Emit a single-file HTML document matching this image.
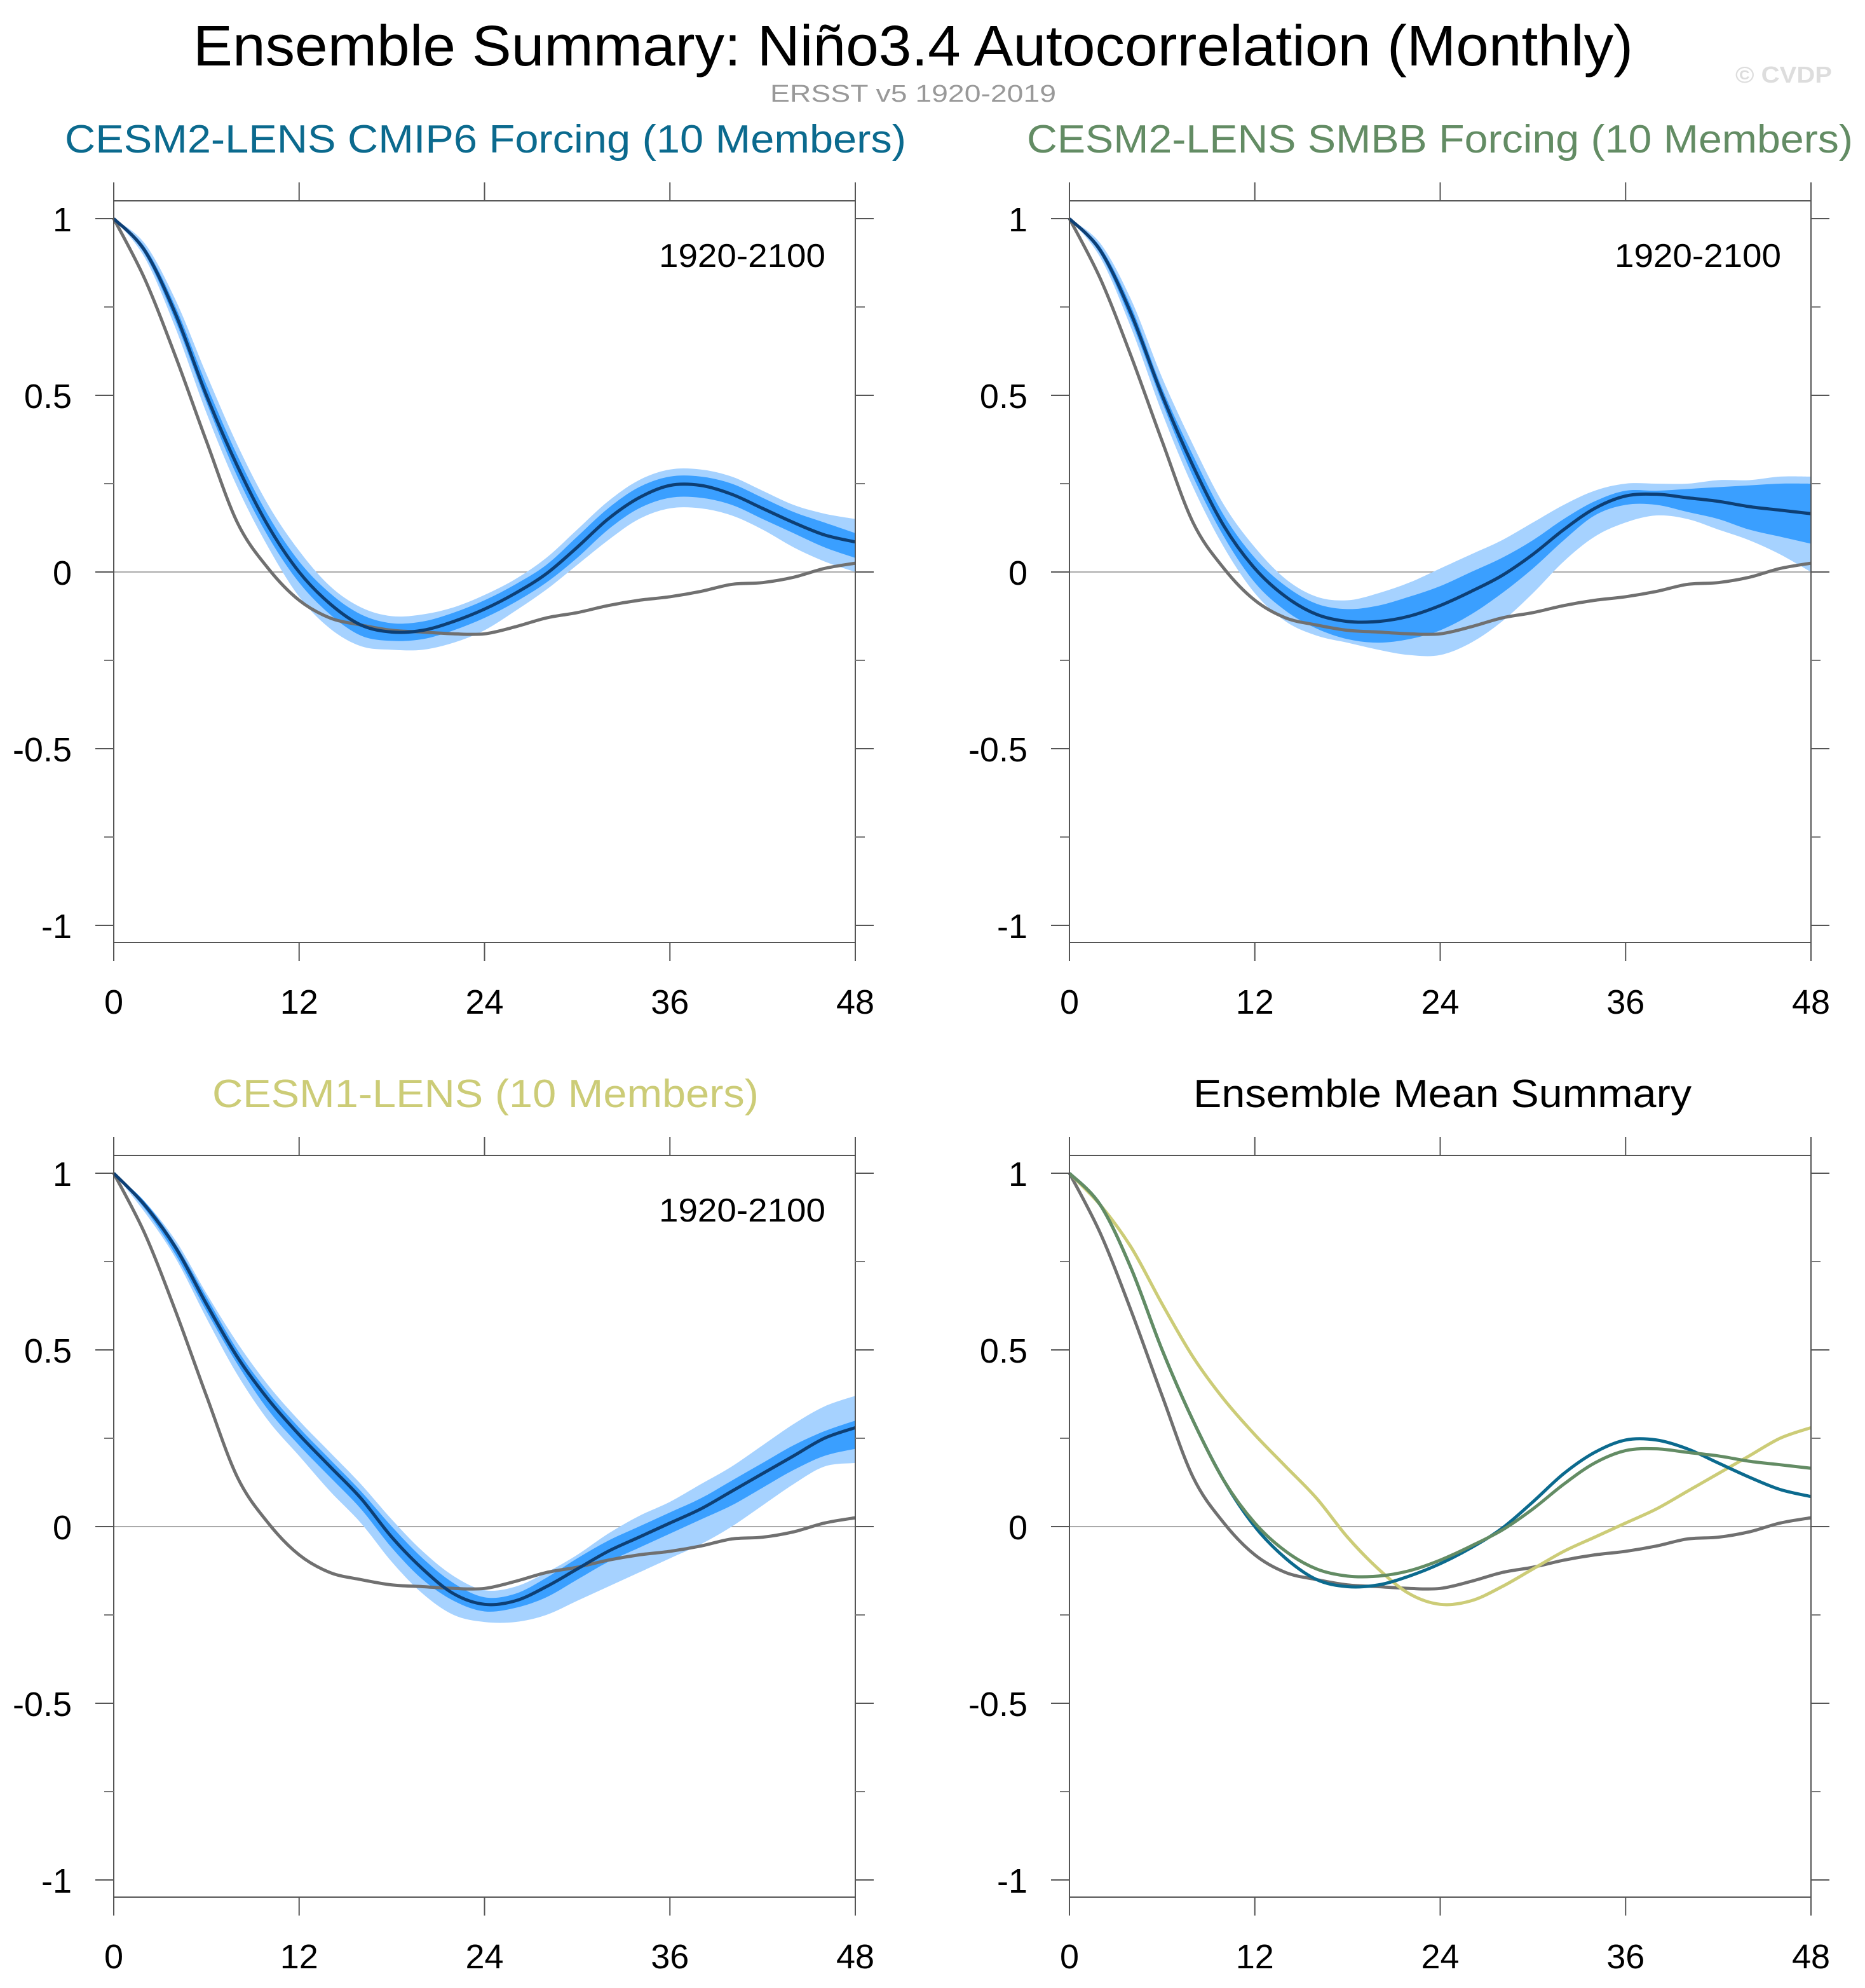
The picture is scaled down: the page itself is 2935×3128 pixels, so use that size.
<!DOCTYPE html>
<html><head><meta charset="utf-8"><style>
html,body{margin:0;padding:0;background:#fff;}
svg{display:block;font-family:"Liberation Sans",sans-serif;}
</style></head><body>
<svg id="fig" width="2935" height="3128" viewBox="0 0 2935 3128">
<text x="1437" y="103" text-anchor="middle" font-size="90" textLength="2266" lengthAdjust="spacingAndGlyphs" fill="#000">Ensemble Summary: Niño3.4 Autocorrelation (Monthly)</text>
<text x="1437" y="160" text-anchor="middle" font-size="38" textLength="450" lengthAdjust="spacingAndGlyphs" fill="#999">ERSST v5 1920-2019</text>
<text x="2883" y="130" text-anchor="end" font-size="36" font-weight="bold" textLength="152" lengthAdjust="spacingAndGlyphs" fill="#ddd">© CVDP</text>
</svg>
<script>
const lags = [0,2,4,6,8,10,12,14,16,18,20,22,24,26,28,30,32,34,36,38,40,42,44,46,48];
const obs = [1,0.83,0.61,0.37,0.14,0.01,-0.08,-0.13,-0.15,-0.165,-0.17,-0.175,-0.175,-0.155,-0.13,-0.115,-0.095,-0.08,-0.07,-0.055,-0.035,-0.03,-0.015,0.01,0.025];
const cmip6Mean = [1,0.91,0.73,0.50,0.30,0.13,0.0,-0.09,-0.15,-0.17,-0.165,-0.14,-0.105,-0.06,-0.005,0.07,0.15,0.21,0.245,0.245,0.22,0.18,0.14,0.105,0.085];
const cmip6InLo = [1,0.90,0.71,0.48,0.27,0.10,-0.03,-0.12,-0.18,-0.195,-0.19,-0.165,-0.13,-0.085,-0.03,0.04,0.12,0.18,0.21,0.21,0.19,0.15,0.11,0.07,0.04];
const cmip6InHi = [1,0.92,0.75,0.53,0.33,0.16,0.03,-0.06,-0.12,-0.145,-0.14,-0.115,-0.08,-0.035,0.02,0.10,0.18,0.24,0.27,0.27,0.25,0.21,0.17,0.14,0.11];
const cmip6OutLo = [1,0.89,0.69,0.45,0.24,0.07,-0.07,-0.16,-0.21,-0.22,-0.22,-0.2,-0.165,-0.11,-0.05,0.02,0.09,0.15,0.18,0.18,0.16,0.12,0.07,0.03,0.0];
const cmip6OutHi = [1,0.93,0.77,0.56,0.36,0.19,0.06,-0.04,-0.10,-0.125,-0.12,-0.1,-0.065,-0.02,0.04,0.12,0.2,0.26,0.29,0.29,0.27,0.23,0.19,0.165,0.15];
const smbbMean = [1,0.91,0.73,0.50,0.30,0.13,0.01,-0.07,-0.12,-0.14,-0.14,-0.125,-0.095,-0.055,-0.01,0.05,0.12,0.18,0.215,0.22,0.21,0.2,0.185,0.175,0.165];
const smbbInLo = [1,0.90,0.71,0.48,0.27,0.10,-0.03,-0.11,-0.16,-0.19,-0.2,-0.19,-0.165,-0.12,-0.06,0.01,0.09,0.16,0.19,0.19,0.17,0.15,0.12,0.1,0.08];
const smbbInHi = [1,0.92,0.75,0.52,0.33,0.16,0.04,-0.04,-0.09,-0.105,-0.095,-0.07,-0.04,0.0,0.04,0.09,0.15,0.2,0.23,0.23,0.235,0.24,0.245,0.25,0.25];
const smbbOutLo = [1,0.89,0.69,0.45,0.24,0.07,-0.06,-0.14,-0.18,-0.2,-0.22,-0.235,-0.235,-0.2,-0.14,-0.06,0.03,0.1,0.14,0.16,0.15,0.12,0.09,0.05,0.0];
const smbbOutHi = [1,0.93,0.77,0.55,0.36,0.19,0.07,-0.02,-0.07,-0.08,-0.06,-0.03,0.01,0.05,0.09,0.14,0.19,0.23,0.25,0.25,0.25,0.26,0.26,0.27,0.27];
const cesm1Mean = [1,0.91,0.79,0.63,0.48,0.36,0.26,0.17,0.08,-0.03,-0.12,-0.19,-0.22,-0.21,-0.17,-0.12,-0.07,-0.03,0.01,0.05,0.1,0.15,0.2,0.25,0.28];
const cesm1InLo = [1,0.90,0.77,0.61,0.46,0.33,0.23,0.14,0.05,-0.06,-0.15,-0.21,-0.24,-0.23,-0.2,-0.15,-0.1,-0.06,-0.02,0.02,0.06,0.11,0.16,0.2,0.22];
const cesm1InHi = [1,0.92,0.80,0.65,0.50,0.38,0.28,0.19,0.10,0.0,-0.09,-0.16,-0.2,-0.19,-0.145,-0.09,-0.04,0.0,0.04,0.08,0.13,0.18,0.23,0.27,0.3];
const cesm1OutLo = [1,0.89,0.76,0.59,0.43,0.3,0.2,0.1,0.01,-0.1,-0.19,-0.25,-0.27,-0.27,-0.25,-0.21,-0.17,-0.13,-0.09,-0.05,0.0,0.06,0.12,0.17,0.18];
const cesm1OutHi = [1,0.92,0.81,0.66,0.52,0.40,0.30,0.21,0.12,0.02,-0.07,-0.14,-0.18,-0.17,-0.13,-0.08,-0.02,0.03,0.07,0.12,0.17,0.23,0.29,0.34,0.37];
const xTicks = [0,12,24,36,48];
const yTicks = [1,0.5,0,-0.5,-1];
const yTickLabels = ["1","0.5","0","-0.5","-1"];
const yMinor = [0.75,0.25,-0.25,-0.75];

const NS="http://www.w3.org/2000/svg";
const svg=document.getElementById('fig');
function mk(tag,attrs,parent){const e=document.createElementNS(NS,tag);for(const k in attrs)e.setAttribute(k,attrs[k]);(parent||svg).appendChild(e);return e;}
// smooth cubic segments through points (Catmull-Rom)
function smooth(pts,start){
  let d=(start?'M':'L')+pts[0][0]+','+pts[0][1];
  for(let i=0;i<pts.length-1;i++){
    const p0=pts[Math.max(0,i-1)],p1=pts[i],p2=pts[i+1],p3=pts[Math.min(pts.length-1,i+2)];
    const c1=[p1[0]+(p2[0]-p0[0])/6,p1[1]+(p2[1]-p0[1])/6];
    const c2=[p2[0]-(p3[0]-p1[0])/6,p2[1]-(p3[1]-p1[1])/6];
    d+=' C'+c1[0]+','+c1[1]+' '+c2[0]+','+c2[1]+' '+p2[0]+','+p2[1];
  }
  return d;
}

function panel(ox,oy,title,titleColor,titleX,titleW,name,bands,lines,period){
  const W=1167, top=oy, bot=oy+1167, y1=oy+28, ym1=oy+1140;
  const xs=v=>ox+v/48*W;
  const ys=v=>y1+(1-v)/2*(ym1-y1);
  const g=mk('g',{});
  
  
  const t=mk('text',{x:titleX,y:oy-76,'font-size':62,fill:titleColor,textLength:titleW,lengthAdjust:'spacingAndGlyphs'},g);
  t.textContent=title;
  
  
  const z=mk('line',{x1:ox,x2:ox+W,y1:ys(0),y2:ys(0),stroke:'#aaa','stroke-width':2},g);
  
  
  bands.forEach((b,bi)=>{
    const hiPts=lags.map((l,i)=>[xs(l),ys(b.hi[i])]);
    const loPts=lags.map((l,i)=>[xs(l),ys(b.lo[i])]).reverse();
    const p=mk('path',{d:smooth(hiPts,true)+' '+smooth(loPts,false)+'Z',fill:b.color,stroke:'none'},g);
    
    
  });
  lines.forEach(ln=>{
    const pts=lags.map((l,i)=>[xs(l),ys(ln.v[i])]);
    const p=mk('path',{d:smooth(pts,true),fill:'none',stroke:ln.color,'stroke-width':ln.w||5,'stroke-linejoin':'round'},g);
    
    
  });
  const fr=mk('rect',{x:ox,y:top,width:W,height:bot-top,fill:'none',stroke:'#555','stroke-width':2},g);
  
  
  xTicks.forEach(v=>{
    mk('line',{x1:xs(v),x2:xs(v),y1:bot,y2:bot+29,stroke:'#555','stroke-width':2},g);
    mk('line',{x1:xs(v),x2:xs(v),y1:top,y2:top-29,stroke:'#555','stroke-width':2},g);
    const l=mk('text',{x:xs(v),y:bot+112,'font-size':54,'text-anchor':'middle',fill:'#000'},g);
    l.textContent=v;
    
    
  });
  yTicks.forEach((v,i)=>{
    mk('line',{x1:ox,x2:ox-29,y1:ys(v),y2:ys(v),stroke:'#555','stroke-width':2},g);
    mk('line',{x1:ox+W,x2:ox+W+29,y1:ys(v),y2:ys(v),stroke:'#555','stroke-width':2},g);
    const l=mk('text',{x:ox-66,y:ys(v)+20,'font-size':54,'text-anchor':'end',fill:'#000'},g);
    l.textContent=yTickLabels[i];
    
    
  });
  yMinor.forEach(v=>{
    mk('line',{x1:ox,x2:ox-15,y1:ys(v),y2:ys(v),stroke:'#777','stroke-width':2},g);
    mk('line',{x1:ox+W,x2:ox+W+15,y1:ys(v),y2:ys(v),stroke:'#777','stroke-width':2},g);
  });
  if(period){
    const p=mk('text',{x:ox+1120,y:oy+104,'font-size':52,'text-anchor':'end',fill:'#000',textLength:262,lengthAdjust:'spacingAndGlyphs'},g);
    p.textContent=period;
    
    
  }
}
const L='#a6d2ff', D='#3a9fff', M='#0d3f75', G='#707070';
panel(179,316,'CESM2-LENS CMIP6 Forcing (10 Members)','#0b6a8e',102,1324,'cmip6',
  [{lo:cmip6OutLo,hi:cmip6OutHi,color:L},{lo:cmip6InLo,hi:cmip6InHi,color:D}],
  [{v:obs,color:G,n:'obs'},{v:cmip6Mean,color:M,n:'mean'}],'1920-2100');
panel(1683,316,'CESM2-LENS SMBB Forcing (10 Members)','#638c64',1616,1300,'smbb',
  [{lo:smbbOutLo,hi:smbbOutHi,color:L},{lo:smbbInLo,hi:smbbInHi,color:D}],
  [{v:obs,color:G,n:'obs'},{v:smbbMean,color:M,n:'mean'}],'1920-2100');
panel(179,1818,'CESM1-LENS (10 Members)','#cccc77',334,860,'cesm1',
  [{lo:cesm1OutLo,hi:cesm1OutHi,color:L},{lo:cesm1InLo,hi:cesm1InHi,color:D}],
  [{v:obs,color:G,n:'obs'},{v:cesm1Mean,color:M,n:'mean'}],'1920-2100');
panel(1683,1818,'Ensemble Mean Summary','#000',1878,784,'summary',[],
  [{v:obs,color:G,n:'obs'},{v:cesm1Mean,color:'#cccc77',n:'cesm1'},{v:cmip6Mean,color:'#0b6a8e',n:'cmip6'},{v:smbbMean,color:'#638c64',n:'smbb'}],null);
</script>
</body></html>
